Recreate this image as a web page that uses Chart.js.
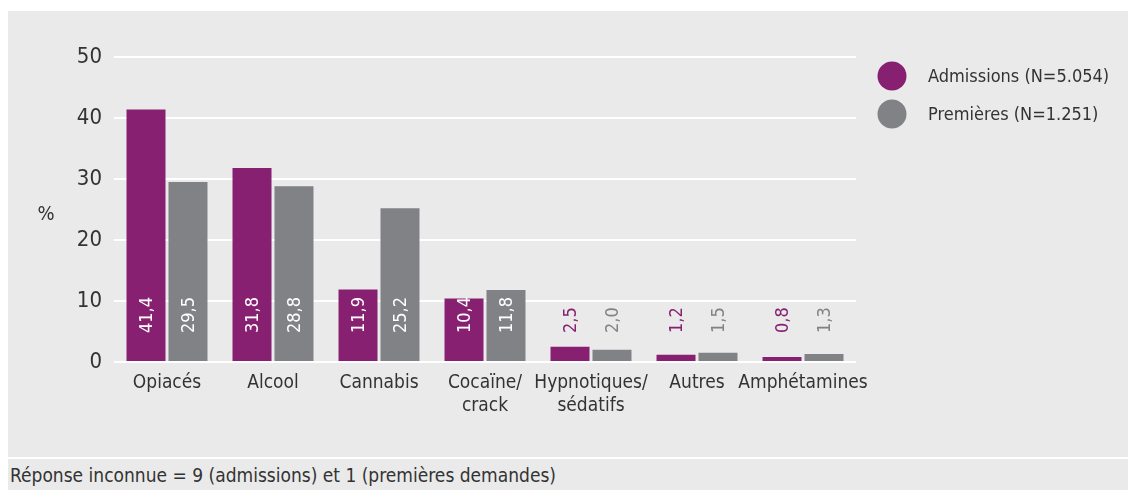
<!DOCTYPE html>
<html>
<head>
<meta charset="utf-8">
<script src="https://cdn.jsdelivr.net/npm/chart.js@4"></script>
<style>
  body { margin: 0; background: #fff; width: 1128px; height: 490px; overflow: hidden; position: relative; }
  #panel { position: absolute; left: 8px; top: 11px; width: 1120px; height: 446px; background: #eaeaea; }
  #foot { position: absolute; left: 8px; top: 459px; width: 1120px; height: 31px; background: #eaeaea;
          font: 19px "Liberation Sans Narrow", "DejaVu Sans Condensed", sans-serif; color: #333; }
  #foot span { position: absolute; left: 2px; top: 5px; }
  #graph { position: absolute; left: 0; top: 0; }
</style>
</head>
<body>
<div id="panel"></div>
<div id="foot"><span>Réponse inconnue = 9 (admissions) et 1 (premières demandes)</span></div>
<canvas id="graph" width="1128" height="455" style="width:1128px;height:455px"></canvas>
<script>
const categories = ['Opiacés', 'Alcool', 'Cannabis', ['Cocaïne/', 'crack'], ['Hypnotiques/', 'sédatifs'], 'Autres', 'Amphétamines'];
const admissions = [41.4, 31.8, 11.9, 10.4, 2.5, 1.2, 0.8];
const premieres = [29.5, 28.8, 25.2, 11.8, 2.0, 1.5, 1.3];
const seriesNames = ['Admissions (N=5.054)', 'Premières (N=1.251)'];
const yTicks = [0, 10, 20, 30, 40, 50];

const purple = '#872071';
const grey = '#818286';
const fontFam = '"Liberation Sans Narrow", "DejaVu Sans Condensed", sans-serif';

// valeurs écrites verticalement, à hauteur fixe au-dessus de zéro
const valueLabels = {
  id: 'valueLabels',
  afterDatasetsDraw(chart) {
    const ctx = chart.ctx;
    const y0 = chart.scales.y.getPixelForValue(0);
    ctx.save();
    ctx.font = '18px ' + fontFam;
    chart.data.datasets.forEach((ds, i) => {
      chart.getDatasetMeta(i).data.forEach((bar, j) => {
        const v = ds.data[j];
        ctx.save();
        ctx.translate(bar.x, y0 - 29);
        ctx.rotate(-Math.PI / 2);
        ctx.textAlign = 'left';
        ctx.textBaseline = 'middle';
        ctx.fillStyle = v > 6 ? '#fff' : ds.backgroundColor;
        ctx.fillText(v.toFixed(1).replace('.', ','), 0, 1);
        ctx.restore();
      });
    });
    ctx.restore();
  }
};

const extras = {
  id: 'extras',
  afterDraw(chart) {
    const ctx = chart.ctx;
    ctx.save();
    ctx.font = '20px ' + fontFam;
    ctx.fillStyle = '#333';
    ctx.textAlign = 'center';
    ctx.textBaseline = 'middle';
    ctx.fillText('%', 46, 215);
    ctx.font = '18px ' + fontFam;
    const cols = [purple, grey];
    const ys = [76, 114];
    seriesNames.forEach((name, i) => {
      ctx.beginPath();
      ctx.arc(892, ys[i], 14.5, 0, Math.PI * 2);
      ctx.fillStyle = cols[i];
      ctx.fill();
      ctx.fillStyle = '#333';
      ctx.textAlign = 'left';
      ctx.fillText(name, 928, ys[i] + 1);
    });
    ctx.restore();
  }
};

new Chart(document.getElementById('graph'), {
  type: 'bar',
  data: {
    labels: categories,
    datasets: [
      { label: seriesNames[0], data: admissions, backgroundColor: purple },
      { label: seriesNames[1], data: premieres, backgroundColor: grey }
    ]
  },
  options: {
    responsive: false,
    animation: false,
    devicePixelRatio: 1,
    categoryPercentage: 0.792,
    barPercentage: 0.929,
    layout: { padding: { top: 57, right: 272, bottom: 0, left: 0 } },
    plugins: { legend: { display: false }, tooltip: { enabled: false } },
    scales: {
      x: {
        grid: { display: false },
        border: { display: false },
        ticks: { color: '#333', font: { family: fontFam, size: 19 }, padding: 2, maxRotation: 0, autoSkip: false },
        afterFit(s) { s.height = 93; }
      },
      y: {
        min: 0, max: 50,
        afterBuildTicks(s) { s.ticks = yTicks.map(v => ({ value: v })); },
        grid: { color: '#fff', lineWidth: 2, drawTicks: false },
        border: { display: false },
        ticks: { color: '#333', font: { family: fontFam, size: 22 }, padding: 12 },
        afterFit(s) { s.width = 114; }
      }
    }
  },
  plugins: [valueLabels, extras]
});
</script>
</body>
</html>
